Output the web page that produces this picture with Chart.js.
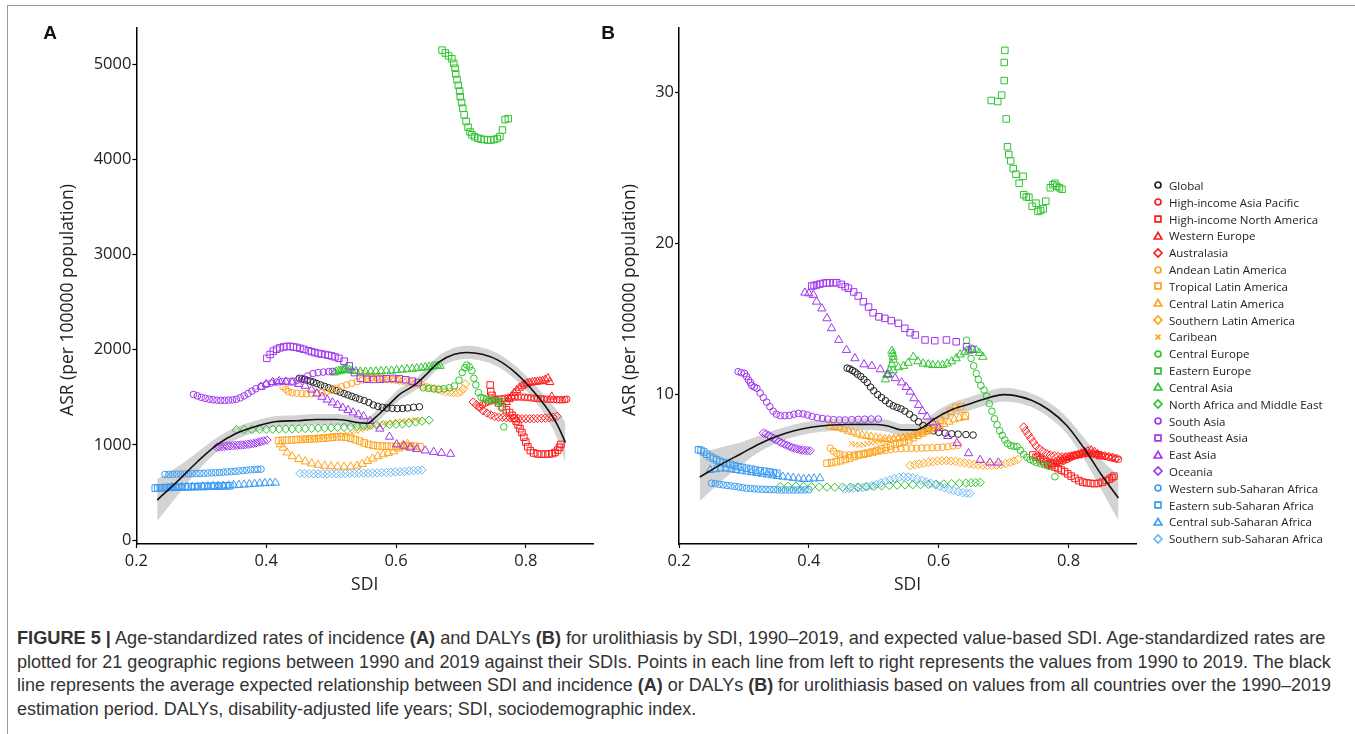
<!DOCTYPE html>
<html>
<head>
<meta charset="utf-8">
<script src="https://cdn.jsdelivr.net/npm/chart.js@4.4.1/dist/chart.umd.min.js"></script>
<style>
  html, body { margin: 0; padding: 0; background: #fff; }
  body { width: 1355px; height: 734px; position: relative; overflow: hidden; font-family: 'Open Sans', sans-serif; }
  .frame { position: absolute; left: 7px; top: 5px; width: 1400px; height: 800px; border-top: 1px solid #9a9a9a; border-left: 1px solid #9a9a9a; }
  .wrap { position: absolute; top: 0; }
  #wrapA { left: 0; }
  #wrapB { left: 560px; }
  .tag { position: absolute; transform: translate(-50%, -50%); font: bold 19px 'Liberation Sans', Arial, sans-serif; color: #111; }
  #legend { position: absolute; left: 1152px; top: 177px; }
  .item { height: 16.83px; display: flex; align-items: center; font-size: 11.5px; color: #222; white-space: nowrap; }
  .item canvas { width: 12px; height: 12px; margin-right: 5px; }
  #caption { position: absolute; left: 17px; top: 626px; font-family: 'Liberation Sans Narrow', 'Liberation Sans', Arial, sans-serif; font-size: 18.5px; color: #333; }
  #caption .line { display: block; width: max-content; white-space: nowrap; height: 23.5px; line-height: 23.5px; transform-origin: 0 50%; }
</style>
</head>
<body>
<div class="frame"></div>
<div class="wrap" id="wrapA"><canvas id="chartA" width="600" height="600"></canvas></div>
<div class="wrap" id="wrapB"><canvas id="chartB" width="585" height="600"></canvas></div>
<div class="tag" style="left:50px;top:33px">A</div>
<div class="tag" style="left:608px;top:33px">B</div>
<div id="legend"></div>
<div id="caption">
  <span class="line" data-w="1308"><b>FIGURE 5 |</b> Age-standardized rates of incidence <b>(A)</b> and DALYs <b>(B)</b> for urolithiasis by SDI, 1990–2019, and expected value-based SDI. Age-standardized rates are</span>
  <span class="line" data-w="1314">plotted for 21 geographic regions between 1990 and 2019 against their SDIs. Points in each line from left to right represents the values from 1990 to 2019. The black</span>
  <span class="line" data-w="1314">line represents the average expected relationship between SDI and incidence <b>(A)</b> or DALYs <b>(B)</b> for urolithiasis based on values from all countries over the 1990–2019</span>
  <span class="line">estimation period. DALYs, disability-adjusted life years; SDI, sociodemographic index.</span>
</div>
<script>
const regions = ['Global', 'High-income Asia Pacific', 'High-income North America', 'Western Europe', 'Australasia',
  'Andean Latin America', 'Tropical Latin America', 'Central Latin America', 'Southern Latin America', 'Caribean',
  'Central Europe', 'Eastern Europe', 'Central Asia', 'North Africa and Middle East',
  'South Asia', 'Southeast Asia', 'East Asia', 'Oceania',
  'Western sub-Saharan Africa', 'Eastern sub-Saharan Africa', 'Central sub-Saharan Africa', 'Southern sub-Saharan Africa'];
const colors = ['#222222', '#FF1A1A', '#FF1A1A', '#FF1A1A', '#FF1A1A',
  '#FFA31A', '#FFA31A', '#FFA31A', '#FFA31A', '#FFA31A',
  '#2EC42E', '#2EC42E', '#2EC42E', '#2EC42E',
  '#A035F0', '#A035F0', '#A035F0', '#A035F0',
  '#3A9CF2', '#3A9CF2', '#3A9CF2', '#69B8F2'];
const shapes = ['circle', 'circle', 'rect', 'triangle', 'rectRot',
  'circle', 'rect', 'triangle', 'rectRot', 'crossRot',
  'circle', 'rect', 'triangle', 'rectRot',
  'circle', 'rect', 'triangle', 'rectRot',
  'circle', 'rect', 'triangle', 'rectRot'];

// incidence panel: SDI per year, and age-standardized incidence rate
const sdiA = [
  [.451,.455,.459,.463,.468,.473,.478,.484,.490,.496,.502,.508,.514,.520,.526,.532,.538,.544,.551,.558,.565,.572,.579,.586,.594,.602,.610,.618,.627,.636],
  [.728,.733,.738,.743,.748,.753,.758,.763,.768,.773,.778,.783,.788,.793,.798,.803,.808,.813,.818,.823,.828,.833,.838,.843,.848,.852,.856,.860,.863],
  [.745,.746,.748,.752,.758,.764,.770,.775,.779,.782,.785,.788,.791,.794,.797,.800,.803,.807,.812,.818,.824,.830,.836,.841,.845,.849,.852,.854],
  [.770,.774,.778,.782,.786,.790,.794,.798,.802,.806,.810,.814,.818,.822,.826,.830,.834,.837,.840],
  [.719,.724,.729,.734,.740,.746,.752,.758,.764,.770,.776,.782,.788,.794,.800,.806,.812,.818,.824,.830,.836,.842,.848],
  [.426,.430,.434,.440,.447,.455,.462,.470,.478,.486,.493,.501,.509,.516,.524,.532,.540,.548,.555,.563,.571,.579,.587,.595,.603],
  [.419,.425,.432,.439,.446,.453,.460,.467,.474,.481,.488,.495,.502,.509,.516,.523,.530,.537,.544,.551,.558,.565,.572,.579,.586,.593,.600,.607,.614,.622,.630,.637],
  [.422,.426,.432,.440,.450,.460,.470,.480,.490,.500,.510,.520,.530,.540,.548,.556,.564,.572,.580,.588,.596,.604,.611,.618,.625],
  [.545,.551,.557,.563,.569,.575,.581,.587,.593,.599,.605,.611,.617,.623,.629,.635,.641,.647,.653,.659,.665,.671,.677,.683,.689,.695,.700,.704,.707],
  [.455,.462,.469,.476,.483,.490,.497,.504,.511,.518,.525,.532,.539,.546,.553,.560,.567,.574,.581,.588,.595,.602,.609,.616,.623,.630,.637],
  [.642,.650,.658,.666,.674,.682,.690,.697,.702,.706,.709,.713,.717,.720,.723,.727,.731,.735,.739,.743,.747,.751,.755,.759,.763,.763,.766],
  [.671,.676,.681,.686,.689,.691,.692,.694,.696,.698,.699,.701,.703,.705,.708,.711,.714,.717,.721,.726,.731,.736,.741,.746,.751,.756,.760,.764,.768,.773],
  [.505,.508,.512,.515,.518,.520,.522,.525,.528,.532,.538,.545,.553,.561,.569,.577,.585,.593,.601,.609,.617,.625,.632,.639,.645,.651,.656,.660,.664,.668],
  [.354,.366,.378,.390,.400,.410,.420,.430,.440,.450,.460,.470,.480,.490,.500,.510,.520,.530,.540,.550,.560,.570,.580,.590,.600,.610,.620,.630,.640,.651],
  [.288,.294,.300,.306,.312,.318,.324,.330,.336,.342,.348,.354,.360,.366,.372,.378,.384,.392,.400,.408,.416,.424,.432,.440,.448,.456,.464,.472,.480,.488,.496,.502],
  [.401,.406,.411,.416,.421,.427,.432,.437,.442,.447,.452,.458,.465,.470,.475,.480,.485,.491,.496,.501,.506,.512,.520,.528,.536,.545,.555,.565,.575,.585,.595,.605,.615,.625,.634],
  [.392,.400,.410,.420,.430,.440,.450,.460,.470,.478,.486,.494,.502,.510,.518,.526,.534,.542,.550,.560,.575,.590,.601,.612,.622,.632,.645,.658,.670,.684],
  [.324,.328,.332,.336,.340,.344,.348,.352,.356,.360,.364,.368,.372,.376,.380,.384,.388,.392,.396,.401],
  [.244,.250,.256,.262,.268,.274,.280,.286,.292,.298,.304,.310,.316,.322,.328,.334,.340,.346,.352,.358,.364,.370,.376,.382,.387,.392],
  [.229,.233,.237,.241,.245,.249,.253,.257,.261,.265,.270,.275,.280,.285,.290,.295,.300,.305,.310,.315,.320,.326,.332,.338,.344],
  [.255,.262,.270,.278,.286,.294,.302,.310,.318,.326,.334,.342,.350,.358,.366,.374,.382,.390,.398,.406,.414],
  [.452,.459,.466,.473,.480,.487,.494,.501,.508,.515,.522,.529,.536,.543,.550,.557,.564,.571,.578,.585,.592,.599,.606,.613,.620,.627,.634,.640]
];
const asrA = [
  [1700,1695,1688,1680,1670,1660,1645,1630,1615,1600,1585,1570,1555,1540,1525,1510,1495,1480,1465,1445,1420,1405,1395,1388,1385,1382,1383,1388,1395,1400],
  [1400,1420,1440,1455,1465,1475,1480,1485,1490,1495,1500,1502,1503,1503,1500,1497,1493,1490,1487,1485,1483,1480,1478,1476,1475,1474,1474,1476,1480],
  [1630,1560,1520,1480,1440,1400,1370,1340,1310,1280,1250,1210,1170,1130,1080,1030,980,940,915,905,903,903,905,908,920,945,975,1005],
  [1450,1480,1510,1545,1575,1600,1620,1635,1645,1652,1658,1662,1665,1668,1672,1685,1700,1660,1507],
  [1450,1420,1390,1360,1335,1315,1300,1292,1288,1285,1283,1280,1278,1276,1275,1275,1276,1278,1280,1282,1285,1290,1300],
  [1612,1585,1560,1548,1543,1538,1536,1538,1543,1550,1560,1575,1595,1612,1630,1648,1665,1682,1700,1705,1705,1700,1695,1690,1685],
  [1045,1048,1050,1052,1055,1058,1060,1062,1065,1068,1070,1075,1080,1085,1085,1080,1070,1055,1040,1020,1005,995,990,988,985,984,984,985,987,990,986,981],
  [1005,970,920,880,850,825,805,790,780,775,772,770,772,780,800,830,855,880,900,915,930,960,1000,1010,980],
  [1750,1740,1730,1720,1712,1705,1700,1695,1690,1685,1680,1675,1665,1655,1645,1635,1625,1612,1600,1590,1580,1570,1560,1555,1550,1548,1560,1590,1640],
  [1060,1065,1070,1075,1080,1085,1090,1095,1100,1105,1115,1125,1140,1155,1170,1185,1200,1210,1220,1230,1238,1245,1250,1255,1258,1262,1265],
  [1600,1595,1590,1585,1590,1600,1620,1680,1760,1810,1840,1820,1780,1700,1630,1550,1500,1490,1480,1475,1470,1465,1460,1458,1455,1385,1190],
  [5150,5120,5090,5060,5010,4960,4900,4840,4780,4720,4660,4600,4540,4470,4400,4340,4290,4260,4240,4225,4215,4210,4205,4205,4210,4220,4240,4310,4420,4430],
  [1760,1770,1775,1780,1785,1790,1795,1790,1785,1780,1775,1770,1770,1770,1772,1775,1778,1780,1785,1790,1795,1800,1805,1810,1815,1820,1825,1830,1830,1830],
  [1158,1160,1162,1163,1164,1165,1166,1167,1168,1170,1172,1174,1176,1178,1180,1183,1186,1190,1195,1200,1205,1210,1212,1214,1217,1220,1230,1240,1250,1260],
  [1530,1515,1500,1490,1480,1474,1470,1468,1468,1470,1473,1480,1495,1515,1540,1565,1590,1615,1635,1650,1660,1665,1668,1670,1680,1700,1725,1750,1760,1765,1770,1772],
  [1910,1950,1985,2005,2020,2030,2035,2035,2030,2025,2015,2005,1990,1980,1970,1962,1955,1950,1942,1935,1925,1910,1880,1830,1760,1700,1690,1688,1690,1695,1700,1695,1685,1670,1655],
  [1610,1640,1660,1670,1665,1655,1640,1620,1580,1540,1505,1475,1445,1420,1390,1365,1340,1320,1300,1250,1170,1085,1005,990,970,955,940,925,915,905],
  [975,978,982,985,988,990,992,994,996,998,1000,1003,1006,1010,1015,1020,1028,1035,1042,1050],
  [690,690,691,692,693,694,695,697,698,700,702,704,706,708,710,713,716,719,722,726,730,734,738,741,743,745],
  [545,547,549,550,551,552,553,554,555,556,557,558,559,560,561,562,563,563,564,565,566,566,567,568,570],
  [555,556,557,558,559,560,562,564,566,568,570,572,575,578,582,586,590,594,597,600,602],
  [700,698,697,696,695,695,695,696,697,698,699,700,701,702,703,704,705,706,708,710,712,715,718,722,726,730,733,736]
];

// DALY panel: SDI per year, and age-standardized DALY rate
const sdiB = [
  [.459,.463,.467,.471,.475,.480,.485,.490,.495,.500,.506,.512,.518,.524,.530,.536,.542,.548,.555,.562,.569,.576,.584,.592,.600,.610,.620,.630,.642,.653],
  [.752,.757,.762,.767,.772,.777,.782,.787,.792,.797,.802,.807,.812,.817,.822,.827,.832,.837,.842,.847,.852,.857,.862,.867,.872,.877],
  [.745,.750,.756,.762,.768,.774,.779,.784,.789,.794,.799,.804,.810,.816,.822,.828,.834,.840,.846,.852,.858,.863,.867,.870],
  [.770,.775,.780,.785,.790,.795,.800,.805,.810,.815,.820,.825,.830,.835,.840,.845,.849],
  [.731,.734,.738,.742,.746,.750,.755,.760,.766,.772,.778,.784,.790,.796,.802,.808,.814,.820,.826,.832,.838,.844,.850,.856,.862,.868,.874],
  [.433,.438,.443,.448,.455,.462,.470,.478,.486,.494,.502,.510,.518,.526,.534,.542,.550,.558,.566,.574,.582,.590,.598,.606,.614,.622,.630],
  [.428,.435,.442,.449,.456,.463,.470,.477,.484,.491,.498,.505,.512,.519,.526,.533,.540,.547,.554,.561,.568,.575,.582,.589,.596,.603,.610,.618,.626,.634,.641],
  [.433,.440,.447,.454,.461,.468,.475,.482,.489,.496,.503,.510,.517,.524,.531,.538,.545,.552,.560,.568,.576,.584,.592,.600,.608,.616,.624,.632,.640],
  [.556,.563,.570,.577,.584,.591,.598,.605,.612,.619,.626,.633,.640,.647,.654,.661,.668,.675,.682,.689,.696,.703,.710,.716,.722],
  [.466,.472,.478,.484,.490,.496,.502,.508,.514,.520,.527,.534,.541,.548,.555,.562,.569,.576,.583,.590,.597,.604],
  [.643,.646,.650,.654,.658,.661,.665,.670,.674,.678,.682,.686,.690,.694,.698,.702,.706,.711,.716,.721,.726,.731,.736,.741,.746,.751,.757,.763,.770,.779],
  [.681,.691,.697,.701,.701,.702,.704,.706,.708,.711,.715,.719,.724,.730,.731,.735,.739,.744,.750,.753,.757,.761,.765,.772,.776,.779,.782,.786,.790],
  [.528,.529,.530,.530,.528,.524,.520,.518,.522,.530,.538,.546,.553,.561,.568,.576,.584,.591,.599,.606,.613,.620,.627,.633,.640,.646,.652,.658,.663,.668],
  [.356,.368,.380,.392,.404,.416,.428,.440,.452,.464,.476,.488,.500,.512,.524,.536,.548,.560,.572,.584,.596,.608,.620,.632,.642,.650,.657,.664],
  [.291,.296,.301,.304,.307,.310,.312,.316,.320,.325,.330,.335,.340,.345,.350,.356,.363,.370,.377,.384,.391,.398,.405,.413,.421,.429,.438,.447,.456,.466,.476,.486,.496,.507],
  [.4045,.408,.412,.417,.422,.427,.432,.438,.443,.450,.456,.461,.469,.476,.484,.492,.499,.508,.517,.527,.538,.548,.556,.564,.579,.594,.612,.627,.643,.651],
  [.394,.400,.407,.412,.420,.428,.435,.446,.458,.471,.485,.497,.510,.522,.533,.543,.550,.556,.562,.569,.575,.582,.591,.600,.614,.628,.646,.664,.679,.692],
  [.330,.334,.338,.342,.346,.350,.354,.358,.362,.366,.370,.374,.378,.382,.386,.390,.394,.398,.402],
  [.250,.256,.262,.268,.274,.280,.286,.292,.298,.304,.310,.316,.322,.328,.334,.340,.346,.352,.358,.364,.370,.376,.382,.388,.394,.400],
  [.230,.234,.238,.243,.248,.253,.258,.263,.268,.273,.279,.285,.291,.297,.304,.311,.318,.325,.332,.339,.345,.351],
  [.248,.256,.264,.272,.280,.288,.296,.304,.312,.320,.328,.336,.344,.352,.360,.368,.376,.384,.392,.400,.408,.417],
  [.455,.462,.469,.476,.483,.490,.497,.504,.511,.518,.525,.532,.539,.546,.553,.560,.567,.574,.581,.588,.595,.602,.609,.616,.623,.630,.637,.643,.648]
];
const asrB = [
  [11.75,11.7,11.6,11.5,11.35,11.2,11.0,10.8,10.5,10.25,10.0,9.8,9.6,9.4,9.25,9.15,9.05,8.9,8.7,8.45,8.2,7.95,7.75,7.6,7.5,7.45,7.4,7.38,7.35,7.32],
  [5.9,5.8,5.7,5.6,5.5,5.45,5.45,5.5,5.6,5.7,5.8,5.9,6.0,6.05,6.1,6.12,6.12,6.1,6.05,6.0,5.95,5.9,5.85,5.8,5.75,5.72],
  [6.0,5.85,5.7,5.55,5.4,5.3,5.2,5.1,5.0,4.9,4.75,4.6,4.45,4.3,4.2,4.15,4.12,4.1,4.12,4.2,4.3,4.4,4.5,4.6],
  [5.3,5.4,5.5,5.6,5.7,5.8,5.85,5.9,5.95,6.0,6.1,6.2,6.25,6.3,6.2,6.05,5.9],
  [7.85,7.6,7.35,7.1,6.85,6.6,6.4,6.25,6.1,6.0,5.95,5.9,5.88,5.88,5.9,5.95,6.0,6.05,6.1,6.1,6.08,6.05,6.0,5.95,5.9,5.85,5.78],
  [6.45,6.25,6.1,6.05,6.0,6.0,6.02,6.05,6.1,6.15,6.2,6.25,6.3,6.35,6.4,6.42,6.44,6.45,6.45,6.46,6.47,6.48,6.5,6.52,6.55,6.6,6.65],
  [5.45,5.5,5.55,5.62,5.7,5.8,5.9,6.0,6.05,6.12,6.2,6.3,6.4,6.5,6.6,6.7,6.8,6.9,7.0,7.15,7.3,7.45,7.6,7.8,8.0,8.3,8.6,8.9,9.15,9.2,8.6],
  [7.9,7.85,7.8,7.7,7.6,7.5,7.4,7.3,7.25,7.2,7.15,7.1,7.05,7.05,7.05,7.1,7.15,7.2,7.3,7.4,7.5,7.6,7.75,7.9,8.05,8.2,8.35,8.45,8.5],
  [5.3,5.35,5.4,5.45,5.5,5.55,5.6,5.62,5.62,5.6,5.57,5.52,5.47,5.42,5.38,5.35,5.32,5.3,5.3,5.32,5.36,5.42,5.5,5.6,5.7],
  [6.75,6.7,6.65,6.7,6.75,6.8,6.85,6.9,6.95,7.0,7.05,7.1,7.15,7.2,7.25,7.3,7.4,7.5,7.6,7.7,7.8,7.9],
  [13.6,13.0,12.4,11.9,11.4,11.0,10.6,10.3,9.9,9.4,8.9,8.4,8.0,7.6,7.3,7.0,6.75,6.62,6.58,6.55,6.3,6.05,5.85,5.7,5.6,5.5,5.42,5.35,5.25,4.56],
  [29.48,29.41,29.84,30.8,32.0,32.8,28.26,26.42,25.9,25.48,24.97,24.6,24.0,24.46,23.24,23.1,23.07,22.48,22.68,22.13,22.2,22.3,22.81,23.7,23.9,24.0,23.8,23.7,23.6],
  [12.9,12.7,12.5,12.3,12.0,11.6,11.3,11.0,11.3,11.6,11.8,11.9,12.1,12.5,12.2,12.05,12.0,11.95,11.95,11.95,12.05,12.2,12.4,12.65,12.8,12.9,13.0,12.95,12.75,12.5],
  [3.9,3.92,3.93,3.92,3.9,3.88,3.87,3.86,3.86,3.87,3.88,3.9,3.92,3.95,3.98,4.0,4.02,4.03,4.04,4.05,4.06,4.08,4.1,4.12,4.14,4.16,4.17,4.18],
  [11.52,11.45,11.4,11.2,10.97,10.8,10.6,10.5,10.42,10.1,9.8,9.5,9.2,8.9,8.7,8.6,8.6,8.62,8.7,8.75,8.72,8.65,8.55,8.47,8.42,8.38,8.34,8.32,8.32,8.34,8.36,8.37,8.38,8.38],
  [17.19,17.22,17.26,17.32,17.37,17.4,17.4,17.41,17.41,17.3,17.15,17.04,16.8,16.53,16.15,15.8,15.42,15.15,15.05,14.9,14.72,14.39,14.1,13.95,13.62,13.57,13.62,13.5,13.17,13.0],
  [16.75,16.7,16.6,16.15,15.7,15.05,14.39,13.62,12.95,12.4,12.0,11.9,11.67,11.35,11.08,10.8,10.5,10.19,9.75,9.31,8.9,8.54,8.15,7.77,7.25,6.78,6.11,5.67,5.49,5.49],
  [7.45,7.4,7.3,7.2,7.1,7.0,6.9,6.8,6.72,6.65,6.58,6.5,6.45,6.4,6.35,6.32,6.3,6.29,6.28],
  [4.13,4.1,4.06,4.02,3.98,3.95,3.92,3.88,3.84,3.8,3.78,3.76,3.74,3.73,3.72,3.71,3.7,3.69,3.68,3.68,3.68,3.68,3.68,3.68,3.69,3.7],
  [6.35,6.3,6.2,6.05,5.89,5.78,5.67,5.58,5.5,5.45,5.38,5.3,5.23,5.18,5.12,5.06,5.0,4.96,4.92,4.88,4.84,4.79],
  [5.0,5.05,5.1,5.1,5.05,5.0,4.95,4.9,4.85,4.8,4.75,4.7,4.65,4.6,4.56,4.52,4.48,4.44,4.4,4.42,4.44,4.46],
  [3.75,3.78,3.8,3.82,3.85,3.9,3.96,4.05,4.15,4.25,4.35,4.45,4.52,4.56,4.55,4.5,4.42,4.32,4.22,4.12,4.02,3.92,3.82,3.72,3.64,3.56,3.5,3.47,3.46]
];

// expected values by SDI (smoothed fit) with standard error
const fitSdiA = [.232,.264,.294,.325,.355,.386,.416,.447,.477,.508,.526,.538,.556,.568,.587,.605,.629,.648,.666,.690,.709,.733,.757,.782,.806,.830,.849,.861];
const fitA = [420,622,823,1005,1125,1199,1246,1254,1267,1267,1254,1238,1226,1287,1408,1529,1630,1750,1871,1952,1972,1952,1891,1771,1609,1408,1206,1025];
const seA = [220,150,100,75,65,60,58,58,58,58,58,60,62,62,62,60,60,62,65,68,70,70,70,72,80,100,150,210];
const fitSdiB = [.232,.267,.295,.322,.349,.376,.403,.430,.457,.480,.505,.522,.543,.565,.576,.592,.619,.646,.673,.700,.716,.743,.770,.797,.824,.851,.877];
const fitB = [4.54,5.43,6.07,6.70,7.21,7.59,7.84,7.97,8.02,8.03,8.02,7.92,7.66,7.66,7.84,8.35,8.98,9.36,9.74,10.0,9.95,9.62,8.98,7.97,6.44,4.67,3.15];
const seB = [1.6,1.1,0.75,0.55,0.45,0.42,0.4,0.4,0.4,0.4,0.4,0.4,0.4,0.4,0.4,0.42,0.45,0.45,0.45,0.45,0.45,0.45,0.5,0.55,0.7,1.0,1.5];

const xTicks = [0.2, 0.4, 0.6, 0.8];
const yTicksA = [0, 1000, 2000, 3000, 4000, 5000];
const yTicksB = [10, 20, 30];

const FONT = "'Open Sans', sans-serif";
const radius = { circle: 3.3, rect: 4.6, triangle: 4.8, rectRot: 4.2, crossRot: 3.8 };

function pairs(xs, ys) {
  const out = [];
  for (let i = 0; i < Math.min(xs.length, ys.length); i++) out.push({ x: xs[i], y: ys[i] });
  return out;
}

// draws the rotated y-axis caption
const yTitle = {
  id: 'yTitle',
  afterDraw(chart, args, opts) {
    const ctx = chart.ctx;
    ctx.save();
    ctx.translate(opts.x, opts.y);
    ctx.rotate(-Math.PI / 2);
    ctx.font = '17.5px ' + FONT;
    ctx.fillStyle = '#222';
    ctx.textAlign = 'center';
    ctx.textBaseline = 'middle';
    ctx.fillText(opts.text, 0, 0);
    ctx.restore();
  }
};

function makeChart(id, sdi, asr, fx, fy, se, cfg) {
  const datasets = [];
  datasets.push({
    type: 'line', data: pairs(fx, fy.map((v, i) => v - se[i])),
    borderWidth: 0, pointRadius: 0, fill: false, cubicInterpolationMode: 'monotone', order: 100
  });
  datasets.push({
    type: 'line', data: pairs(fx, fy.map((v, i) => v + se[i])),
    borderWidth: 0, pointRadius: 0, fill: '-1', backgroundColor: 'rgba(150,150,150,0.42)',
    cubicInterpolationMode: 'monotone', order: 99
  });
  regions.forEach((name, i) => {
    datasets.push({
      label: name, data: pairs(sdi[i], asr[i]),
      pointStyle: shapes[i], pointRadius: radius[shapes[i]], pointBorderWidth: 1,
      pointBorderColor: colors[i], pointBackgroundColor: 'rgba(0,0,0,0)', showLine: false,
      order: 60 - i
    });
  });
  datasets.push({
    type: 'line', data: pairs(fx, fy), borderColor: '#111', borderWidth: 1.6,
    pointRadius: 0, fill: false, cubicInterpolationMode: 'monotone', order: 0
  });

  return new Chart(document.getElementById(id), {
    type: 'scatter',
    data: { datasets },
    plugins: [yTitle],
    options: {
      responsive: false, animation: false, events: [],
      layout: { padding: { left: 0, top: 27.6, right: cfg.padRight, bottom: 0 } },
      plugins: {
        legend: { display: false }, tooltip: { enabled: false },
        yTitle: { text: 'ASR (per 100000 population)', x: cfg.titleX, y: 300 }
      },
      scales: {
        x: {
          type: 'linear', min: 0.2, max: cfg.xMax,
          afterBuildTicks: s => { s.ticks = xTicks.map(v => ({ value: v })); },
          afterFit: s => { s.height = 56; },
          border: { color: '#000', width: 1.5 },
          grid: { drawOnChartArea: false, color: '#000', tickLength: 4, tickWidth: 1.2 },
          ticks: { color: '#222', font: { size: 16.5, family: FONT }, padding: 3, callback: v => v.toFixed(1) },
          title: { display: true, text: 'SDI', color: '#222', font: { size: 17.5, family: FONT }, padding: { top: 0, bottom: 4 } }
        },
        y: {
          type: 'linear', min: cfg.yMin, max: cfg.yMax,
          afterBuildTicks: s => { s.ticks = cfg.yTicks.map(v => ({ value: v })); },
          afterFit: s => { s.width = cfg.yWidth; },
          border: { color: '#000', width: 1.5 },
          grid: { drawOnChartArea: false, color: '#000', tickLength: 4, tickWidth: 1.2 },
          ticks: { color: '#222', font: { size: 16.5, family: FONT }, padding: 1, callback: v => String(v) }
        }
      }
    }
  });
}

makeChart('chartA', sdiA, asrA, fitSdiA, fitA, seA,
  { xMax: 0.9035, yMin: -42, yMax: 5387, yTicks: yTicksA, yWidth: 136.4, padRight: 7, titleX: 68 });
makeChart('chartB', sdiB, asrB, fitSdiB, fitB, seB,
  { xMax: 0.904, yMin: 0.103, yMax: 34.31, yTicks: yTicksB, yWidth: 119, padRight: 9, titleX: 70 });

// legend rows with the same marker shapes
const legend = document.getElementById('legend');
const legendRadius = { circle: 3, rect: 4.2, triangle: 4.4, rectRot: 4, crossRot: 3.4 };
regions.forEach((name, i) => {
  const row = document.createElement('div');
  row.className = 'item';
  const c = document.createElement('canvas');
  c.width = 12; c.height = 12;
  const ctx = c.getContext('2d');
  ctx.strokeStyle = colors[i];
  ctx.fillStyle = 'rgba(0,0,0,0)';
  ctx.lineWidth = 1.7;
  const opts = { pointStyle: shapes[i], rotation: 0, radius: legendRadius[shapes[i]], borderWidth: 1.7 };
  if (Chart.helpers && Chart.helpers.drawPoint) {
    Chart.helpers.drawPoint(ctx, opts, 6, shapes[i] === 'triangle' ? 6.8 : 6);
  }
  row.appendChild(c);
  const label = document.createElement('span');
  label.textContent = name;
  row.appendChild(label);
  legend.appendChild(row);
});

// squeeze the caption lines to the text block width
function fitCaption() {
  let s = 1;
  document.querySelectorAll('#caption .line').forEach(el => {
    const target = +el.dataset.w;
    if (target) s = target / el.scrollWidth;
    el.style.transform = 'scaleX(' + s + ')';
  });
}
fitCaption();
if (document.fonts && document.fonts.ready) document.fonts.ready.then(fitCaption);
</script>
</body>
</html>
